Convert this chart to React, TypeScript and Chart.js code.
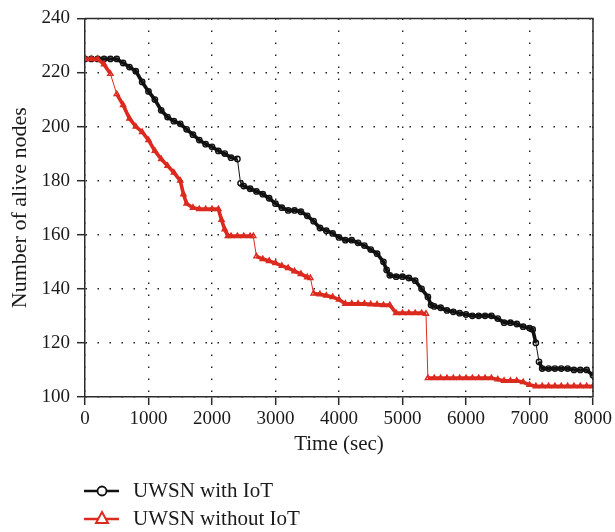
import React, { useEffect, useRef } from "react";
import { Chart, registerables } from "chart.js";

Chart.register(...registerables);

const xTicks = [0, 1000, 2000, 3000, 4000, 5000, 6000, 7000, 8000];
const yTicks = [100, 120, 140, 160, 180, 200, 220, 240];

const seriesNames = ["UWSN with IoT", "UWSN without IoT"];

const withIoTTime = [
  0, 100, 200, 300, 400, 500, 600, 700, 800, 900, 1000, 1100, 1200, 1300, 1400, 1500, 1600, 1700, 1800, 1900,
  2000, 2100, 2200, 2300, 2400, 2450, 2500, 2600, 2700, 2800, 2900, 3000, 3100, 3200, 3300, 3400, 3500, 3600,
  3700, 3800, 3900, 4000, 4100, 4200, 4300, 4400, 4500, 4600, 4700, 4750, 4800, 4900, 5000, 5100, 5200, 5300,
  5400, 5450, 5500, 5600, 5700, 5800, 5900, 6000, 6100, 6200, 6300, 6400, 6500, 6600, 6700, 6800, 6900, 7000,
  7050, 7100, 7150, 7200, 7300, 7400, 7500, 7600, 7700, 7800, 7900, 8000,
];
const withIoTNodes = [
  225, 225, 225, 225, 225, 225, 223.5, 222, 220.5, 216.5, 213, 210, 206, 203.5, 202, 201, 199, 197, 195, 193.5,
  192.5, 191, 190, 188.5, 188, 179, 178, 177, 176, 175, 173.5, 171.5, 170, 169, 169, 168.5, 167, 165,
  162.5, 161.5, 160.5, 159, 158, 158, 157, 156, 154.5, 153, 150, 147, 145, 144.5, 144.5, 144, 143, 140,
  137, 134, 133.5, 133, 132, 131.5, 131, 130.5, 130, 130, 130, 130, 129, 127.5, 127.5, 127, 126, 125.5,
  125, 120, 113, 110.5, 110.5, 110.5, 110.5, 110.5, 110, 110, 110, 108,
];

const withoutIoTTime = [
  0, 100, 200, 300, 400, 500, 600, 700, 800, 900, 1000, 1100, 1200, 1300, 1400, 1500, 1550, 1600, 1700, 1800,
  1900, 2000, 2100, 2150, 2200, 2250, 2300, 2400, 2500, 2600, 2650, 2700, 2800, 2900, 3000, 3100, 3200, 3300,
  3400, 3500, 3550, 3600, 3700, 3800, 3900, 4000, 4100, 4200, 4300, 4400, 4500, 4600, 4700, 4800, 4900, 5000,
  5100, 5200, 5300, 5370, 5400, 5500, 5600, 5700, 5800, 5900, 6000, 6100, 6200, 6300, 6400, 6500, 6600, 6700,
  6800, 6900, 7000, 7100, 7200, 7300, 7400, 7500, 7600, 7700, 7800, 7900, 8000,
];
const withoutIoTNodes = [
  225, 225, 225, 223, 219.5, 212, 208, 203, 200, 198, 195, 191, 188, 185.5, 183, 180, 175, 171.5, 170, 169.5,
  169.5, 169.5, 169.5, 165.5, 162, 159.5, 159.5, 159.5, 159.5, 159.5, 159.5, 152, 151, 150.3, 149.5, 148.5, 147.7, 146.5,
  145.5, 144.3, 144, 138.3, 138, 137.5, 137, 136, 134.5, 134.5, 134.5, 134.5, 134.3, 134.2, 134, 134, 131, 131,
  131, 131, 131, 130.8, 107, 107, 107, 107, 107, 107, 107, 107, 107, 107, 107, 106.5, 106, 106,
  106, 105.5, 104.5, 104, 104, 104, 104, 104, 104, 104, 104, 104, 104,
];

const BLACK = "#111111";
const RED = "#dc2a1f";
const AXIS = "#2b2b2b";
const FONT = "'Liberation Serif', 'Times New Roman', serif";

function toPoints(xs: number[], ys: number[]) {
  return xs.map((x, i) => ({ x, y: ys[i] }));
}

const segWidth = (ctx: any) =>
  Math.abs(ctx.p1.parsed.y - ctx.p0.parsed.y) > 5 ? 1 : 3.6;

const framePlugin = {
  id: "frameAndLegend",
  afterDraw(chart: any) {
    const { ctx, chartArea } = chart;
    const { left, right, top, bottom } = chartArea;
    ctx.save();
    ctx.strokeStyle = AXIS;
    ctx.lineWidth = 1.5;
    ctx.beginPath();
    ctx.moveTo(left, top);
    ctx.lineTo(right, top);
    ctx.lineTo(right, bottom);
    ctx.stroke();

    // legend
    const lx0 = left - 1;
    const lx1 = left + 34;
    const mx = left + 17;
    const rows = [bottom + 94, bottom + 122];
    ctx.font = `21px ${FONT}`;
    ctx.textBaseline = "middle";
    ctx.textAlign = "left";

    ctx.strokeStyle = BLACK;
    ctx.lineWidth = 2.5;
    ctx.beginPath();
    ctx.moveTo(lx0, rows[0]);
    ctx.lineTo(lx1, rows[0]);
    ctx.stroke();
    ctx.fillStyle = "#ffffff";
    ctx.lineWidth = 1.8;
    ctx.beginPath();
    ctx.arc(mx, rows[0], 4.5, 0, Math.PI * 2);
    ctx.fill();
    ctx.stroke();
    ctx.fillStyle = "#1a1a1a";
    ctx.fillText(seriesNames[0], left + 48, rows[0]);

    ctx.strokeStyle = RED;
    ctx.lineWidth = 2.5;
    ctx.beginPath();
    ctx.moveTo(lx0, rows[1]);
    ctx.lineTo(lx1, rows[1]);
    ctx.stroke();
    ctx.fillStyle = "#ffffff";
    ctx.lineWidth = 2;
    ctx.beginPath();
    ctx.moveTo(mx, rows[1] - 7);
    ctx.lineTo(mx + 6, rows[1] + 4);
    ctx.lineTo(mx - 6, rows[1] + 4);
    ctx.closePath();
    ctx.fill();
    ctx.stroke();
    ctx.fillStyle = "#1a1a1a";
    ctx.fillText(seriesNames[1], left + 48, rows[1]);
    ctx.restore();
  },
};

export default function App() {
  const canvasRef = useRef<HTMLCanvasElement | null>(null);

  useEffect(() => {
    if (!canvasRef.current) return;
    const gridCommon = {
      color: "#222222",
      lineWidth: 1.4,
      drawTicks: true,
      tickLength: 8,
      tickColor: AXIS,
      tickWidth: 1.5,
      tickBorderDash: [],
    };
    const borderCommon = { display: true, color: AXIS, width: 1.5, dash: [1.5, 10.5] };
    const chart = new Chart(canvasRef.current, {
      type: "line",
      data: {
        datasets: [
          {
            label: seriesNames[0],
            data: toPoints(withIoTTime, withIoTNodes),
            borderColor: BLACK,
            borderWidth: 3.6,
            segment: { borderWidth: segWidth },
            pointStyle: "circle",
            pointRadius: 2.7,
            pointBorderWidth: 1.4,
            pointBorderColor: BLACK,
            pointBackgroundColor: "rgba(255,255,255,0)",
            order: 1,
          },
          {
            label: seriesNames[1],
            data: toPoints(withoutIoTTime, withoutIoTNodes),
            borderColor: RED,
            borderWidth: 3.6,
            segment: { borderWidth: segWidth },
            pointStyle: "triangle",
            pointRadius: 3,
            pointBorderWidth: 1.4,
            pointBorderColor: RED,
            pointBackgroundColor: "rgba(255,255,255,0)",
            order: 0,
          },
        ],
      },
      options: {
        animation: false,
        responsive: true,
        maintainAspectRatio: false,
        layout: { padding: { left: 0, right: 19, top: 16, bottom: 75 } },
        plugins: { legend: { display: false }, tooltip: { enabled: false } },
        scales: {
          x: {
            type: "linear",
            min: 0,
            max: 8000,
            afterBuildTicks: (scale: any) => {
              scale.ticks = xTicks.map((v) => ({ value: v }));
            },
            afterFit: (scale: any) => {
              scale.height = 60;
            },
            ticks: {
              padding: 3,
              color: "#1a1a1a",
              font: { family: FONT, size: 19 },
              maxRotation: 0,
              callback: (v: any) => String(v),
            },
            grid: gridCommon,
            border: borderCommon,
            title: {
              display: true,
              text: "Time (sec)",
              color: "#1a1a1a",
              font: { family: FONT, size: 21 },
              padding: { top: 0, bottom: 0 },
            },
          },
          y: {
            type: "linear",
            min: 100,
            max: 240,
            afterBuildTicks: (scale: any) => {
              scale.ticks = yTicks.map((v) => ({ value: v }));
            },
            afterFit: (scale: any) => {
              scale.width = 85;
            },
            ticks: {
              padding: 7,
              color: "#1a1a1a",
              font: { family: FONT, size: 19 },
              callback: (v: any) => String(v),
            },
            grid: gridCommon,
            border: borderCommon,
            title: {
              display: true,
              text: "Number of alive nodes",
              color: "#1a1a1a",
              font: { family: FONT, size: 22 },
              padding: { top: 7, bottom: 0 },
            },
          },
        },
      },
      plugins: [framePlugin],
    } as any);
    return () => chart.destroy();
  }, []);

  return (
    <div style={{ position: "absolute", left: 0, top: 0, width: 615, height: 532 }}>
      <canvas ref={canvasRef} />
    </div>
  );
}
